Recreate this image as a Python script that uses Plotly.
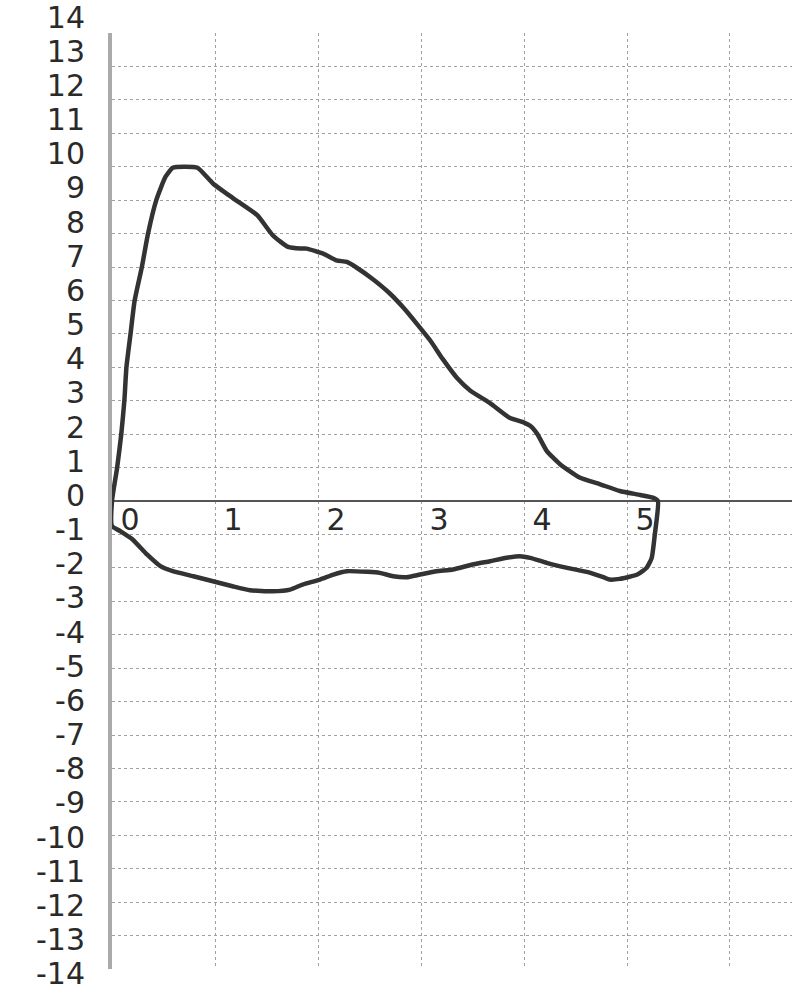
import plotly.graph_objects as go

# Flow-volume loop: volume (L) vs flow (L/s)
volume = [0, 0.05, 0.09, 0.12, 0.14, 0.18, 0.22, 0.29, 0.35, 0.43, 0.52, 0.59, 0.70, 0.83,
          0.98, 1.17, 1.41, 1.56, 1.71, 1.83, 1.89, 2.05, 2.18, 2.28, 2.38, 2.53, 2.70, 2.83,
          2.96, 3.09, 3.21, 3.35, 3.48, 3.67, 3.86, 3.99, 4.06, 4.13, 4.22, 4.35, 4.54, 4.74,
          4.93, 5.13, 5.25, 5.30,
          5.27, 5.24, 5.19, 5.10, 4.93, 4.83, 4.77, 4.61, 4.42, 4.22, 4.06, 3.96, 3.83, 3.67,
          3.50, 3.31, 3.15, 2.99, 2.86, 2.73, 2.60, 2.48, 2.28, 2.15, 2.02, 1.85, 1.73, 1.56,
          1.34, 1.17, 0.98, 0.79, 0.59, 0.47, 0.34, 0.20, 0.08, 0, 0]
flow = [0, 1, 2, 3, 4, 5, 6, 7, 8, 9, 9.7, 9.97, 10.0, 9.97,
        9.5, 9.07, 8.55, 7.95, 7.6, 7.55, 7.55, 7.4, 7.2, 7.15, 6.97, 6.64, 6.2, 5.78,
        5.3, 4.8, 4.25, 3.68, 3.3, 2.93, 2.49, 2.36, 2.25, 2.0, 1.5, 1.1, 0.7, 0.5,
        0.3, 0.18, 0.1, 0,
        -1.0, -1.7, -2.0, -2.2, -2.33, -2.35, -2.28, -2.12, -2.0, -1.85, -1.7, -1.65, -1.7, -1.8,
        -1.9, -2.05, -2.1, -2.2, -2.28, -2.25, -2.15, -2.12, -2.1, -2.2, -2.35, -2.5, -2.65, -2.7,
        -2.67, -2.55, -2.4, -2.25, -2.1, -1.95, -1.6, -1.15, -0.9, -0.75, 0]

x_ticks = [0, 1, 2, 3, 4, 5, 6]
x_tick_labels = ["0", "1", "2", "3", "4", "5", ""]
y_ticks = list(range(-14, 15))
y_tick_labels = [str(v) for v in y_ticks]

FONT = dict(family="DejaVu Sans", size=30, color="#2a2a2a")
X_RANGE = [0, 6.602]
Y_RANGE = [-14, 14]
MAIN_DOMAIN = [0.012358, 0.976313]
LABEL_DOMAIN = [0.0075, 0.99279]
ZERO_POS = (MAIN_DOMAIN[0] + MAIN_DOMAIN[1]) / 2

fig = go.Figure()
fig.add_trace(go.Scatter(
    x=volume, y=flow, mode="lines",
    line=dict(color="#333333", width=4.5, shape="spline", smoothing=0.5),
    hoverinfo="skip", showlegend=False,
))
# empty traces so that the tick-label axis pairs are rendered
fig.add_trace(go.Scatter(x=[None], y=[None], xaxis="x2", yaxis="y2",
                         showlegend=False, hoverinfo="skip"))
fig.add_trace(go.Scatter(x=[None], y=[None], xaxis="x3", yaxis="y3",
                         showlegend=False, hoverinfo="skip"))

fig.update_layout(
    width=792, height=991,
    margin=dict(l=112, r=0, t=10, b=10, autoexpand=False),
    paper_bgcolor="white", plot_bgcolor="rgba(0,0,0,0)",
    xaxis=dict(
        range=X_RANGE, domain=[0, 1], anchor="y",
        tickmode="array", tickvals=x_ticks,
        showgrid=True, gridcolor="#a0a0a0", griddash="dot", gridwidth=1,
        showline=False, zeroline=False, ticks="", showticklabels=False,
        automargin=False,
    ),
    yaxis=dict(
        range=Y_RANGE, domain=MAIN_DOMAIN, anchor="x",
        tickmode="array", tickvals=y_ticks,
        showgrid=True, gridcolor="#a0a0a0", griddash="dot", gridwidth=1,
        showline=True, linecolor="#aaaaaa", linewidth=4,
        zeroline=True, zerolinecolor="#555555", zerolinewidth=2,
        ticks="", showticklabels=False, automargin=False,
    ),
    # y tick labels
    xaxis2=dict(range=X_RANGE, domain=[0, 1], anchor="y2", visible=False),
    yaxis2=dict(
        range=Y_RANGE, domain=LABEL_DOMAIN, anchor="x2",
        tickmode="array", tickvals=y_ticks, ticktext=y_tick_labels,
        showgrid=False, zeroline=False, showline=False, ticks="",
        tickfont=FONT, ticklabelstandoff=26, automargin=False,
        ticklabeloverflow="allow",
    ),
    # x tick labels, placed just under the y = 0 line
    xaxis3=dict(
        range=X_RANGE, domain=[0, 1], anchor="y3",
        tickmode="array", tickvals=x_ticks, ticktext=x_tick_labels,
        showgrid=False, zeroline=False, showline=False, ticks="",
        tickfont=FONT, ticklabelshift=18, automargin=False,
    ),
    yaxis3=dict(range=[0, 1], domain=[ZERO_POS + 0.0025, ZERO_POS + 0.003],
                anchor="x3", visible=False),
)

fig.write_html(
    "out.html",
    config={"displayModeBar": False},
    post_script="document.body.style.margin='0';document.body.style.overflow='hidden';",
)
